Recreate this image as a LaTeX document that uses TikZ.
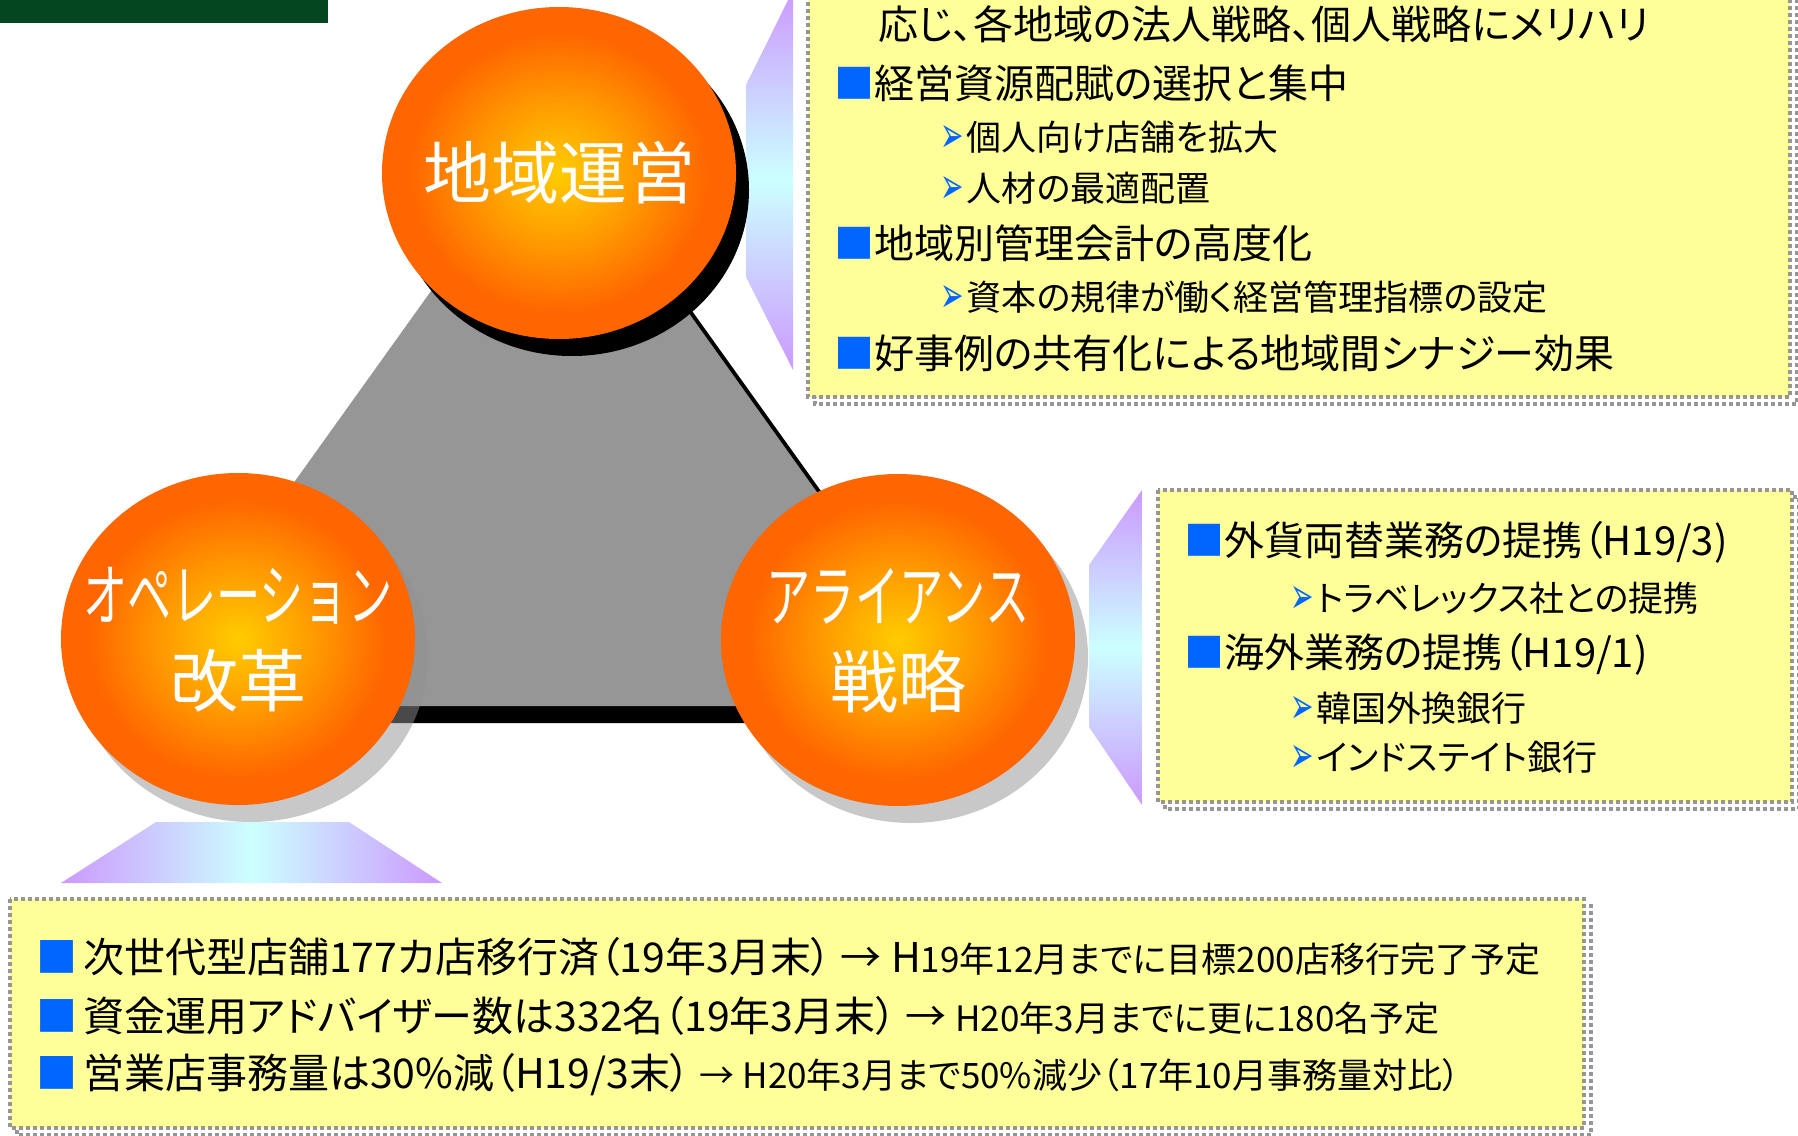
\documentclass[tikz,border=0pt]{standalone}
\usepackage{fontspec}
\newfontfamily\jpfont[RawFeature=+palt]{Noto Sans CJK JP}
\newfontfamily\ballfont{Noto Sans CJK JP}
\newfontfamily\dingfont{DejaVu Sans}
\usetikzlibrary{shapes.geometric,shadows}

\definecolor{ballorange}{HTML}{FF6600}
\definecolor{ballmid}{HTML}{FF9900}
\definecolor{ballyellow}{HTML}{FFCC00}
\definecolor{trigray}{HTML}{969696}
\definecolor{memoyellow}{HTML}{FFFF99}
\definecolor{memoedge}{HTML}{969696}
\definecolor{bulletblue}{HTML}{0066FF}
\definecolor{lilac}{HTML}{CC99FF}
\definecolor{paleaqua}{HTML}{CCFFFF}
\definecolor{titlegreen}{HTML}{03461F}
\definecolor{softshadow}{HTML}{929292}

\pgfdeclareradialshading{ballshade}{\pgfpoint{0bp}{0bp}}{%
  color(0bp)=(ballyellow); color(11bp)=(ballmid);
  color(21bp)=(ballorange); color(50bp)=(ballorange)}

\newcommand\sqbul{\textcolor{bulletblue}{■}}
\newcommand\arbul{{\dingfont\textcolor{bulletblue}{\raisebox{-.05em}{\scalebox{.8}[1.45]{➢}}}}\hspace{3pt}}
\newcommand\narrow[1]{\scalebox{0.65}[1]{#1}}
\newcommand\smaller[1]{{\fontsize{35}{40}\selectfont #1}}

\begin{document}
\begin{tikzpicture}[
    x=1pt, y=-1pt,
    ball/.style={ellipse, inner sep=0pt, minimum width=354pt,
        minimum height=332pt, shade, shading=ballshade},
    balllabel/.style={text=white, align=center,
        font=\ballfont\fontsize{68}{86}\selectfont},
    dark shadow/.style={drop shadow={shadow xshift=13pt,
        shadow yshift=-17pt, fill=black, opacity=1}},
    soft shadow/.style={drop shadow={shadow xshift=13pt,
        shadow yshift=-17pt, fill=softshadow, opacity=.5}},
    memo/.style={fill=memoyellow, draw=memoedge, line width=3.5pt,
        dash pattern=on 4pt off 3pt},
    memo shadow/.style={draw=memoedge, line width=3.5pt,
        dash pattern=on 4pt off 3pt},
    memohead/.style={anchor=west, inner sep=0pt,
        font=\jpfont\fontsize{40}{46}\selectfont},
    memosub/.style={anchor=west, inner sep=0pt,
        font=\jpfont\fontsize{35}{40}\selectfont},
    basenote/.style={anchor=west, inner sep=0pt,
        font=\jpfont\fontsize{41}{46}\selectfont},
    ]

    % Page
    \clip (0,0) rectangle (1798,1135);
    \useasboundingbox (0,0) rectangle (1798,1135);

    % Title bar (cut off at the top)
    \fill[titlegreen] (0,0) rectangle (328,23);

    % Callouts
    \shade[top color=lilac, bottom color=lilac, middle color=paleaqua]
        (793,-10) -- (746,85) -- (746,277) -- (793,370) -- cycle;
    \shade[top color=lilac, bottom color=lilac, middle color=paleaqua]
        (1142,490) -- (1089,565) -- (1089,727) -- (1142,805) -- cycle;
    \shade[left color=lilac, right color=lilac, middle color=paleaqua]
        (156,822) -- (349,822) -- (442,883) -- (61,883) -- cycle;

    % Memo boxes
    \path[memo shadow] (815,-40) rectangle (1797,404);
    \path[memo] (808,-40) rectangle (1790,397);
    \path[memo shadow] (1165,497) rectangle (1799,809);
    \path[memo] (1158,490) rectangle (1792,802);
    \path[memo shadow] (17,906) rectangle (1591,1135);
    \path[memo] (10,899) rectangle (1584,1128);

    % Triangle
    \fill[black] (569,139) -- (987,723) -- (151,723) -- cycle;
    \fill[trigray] (552,122) -- (970,706) -- (134,706) -- cycle;

    % Balls
    \node[ball, dark shadow] (region) at (559,173) {};
    \node[ball, soft shadow] (operation) at (238,639) {};
    \node[ball, soft shadow] (alliance) at (898,640) {};
    \node[balllabel] (regiontext) at (region.center) {地域運営};
    \node[balllabel] (operationtext) at (238,640)
        {\narrow{オペレーション}\\改革};
    \node[balllabel] (alliancetext) at (898,641)
        {\narrow{アライアンス}\\戦略};

    % Regional memo
    \node[memohead] (rg0) at (878,24) {応じ、各地域の法人戦略、個人戦略にメリハリ};
    \node[memohead] (rg1) at (834,83) {\sqbul 経営資源配賦の選択と集中};
    \node[memosub] (rg2) at (940,137) {\arbul 個人向け店舗を拡大};
    \node[memosub] (rg3) at (940,188) {\arbul 人材の最適配置};
    \node[memohead] (rg4) at (834,243) {\sqbul 地域別管理会計の高度化};
    \node[memosub] (rg5) at (940,297) {\arbul 資本の規律が働く経営管理指標の設定};
    \node[memohead] (rg6) at (834,353) {\sqbul 好事例の共有化による地域間シナジー効果};

    % Alliance memo
    \node[memohead] (al1) at (1184,542) {\sqbul 外貨両替業務の提携（H19/3)};
    \node[memosub] (al2) at (1290,598) {\arbul トラベレックス社との提携};
    \node[memohead] (al3) at (1184,654) {\sqbul 海外業務の提携（H19/1)};
    \node[memosub] (al4) at (1290,708) {\arbul 韓国外換銀行};
    \node[memosub] (al5) at (1290,757) {\arbul インドステイト銀行};

    % Operation memo
    \node[basenote] (op1) at (36,957)
        {\sqbul\hspace{6pt}次世代型店舗177カ店移行済（19年3月末） → H\smaller{19年12月までに目標200店移行完了予定}};
    \node[basenote] (op2) at (36,1016)
        {\sqbul\hspace{6pt}資金運用アドバイザー数は332名（19年3月末） → \smaller{H20年3月までに更に180名予定}};
    \node[basenote] (op3) at (36,1075)
        {\sqbul\hspace{6pt}営業店事務量は30\%減（H19/3末） \smaller{→ H20年3月まで50\%減少（17年10月事務量対比）}};
\end{tikzpicture}
\end{document}
